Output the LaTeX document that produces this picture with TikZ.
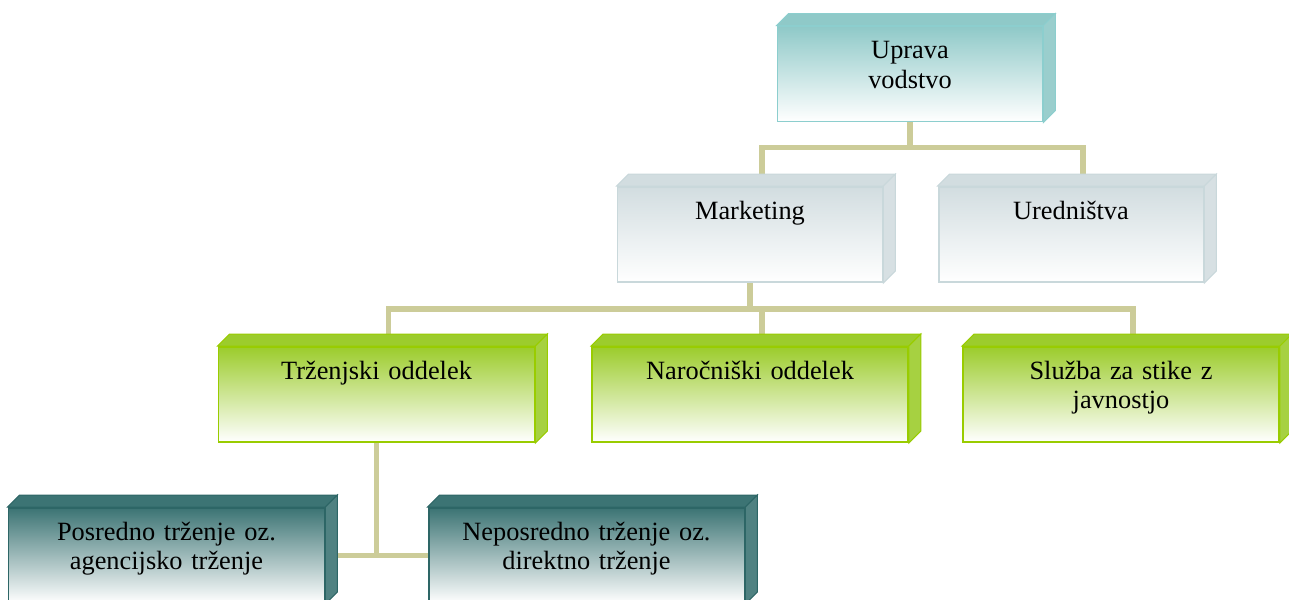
\documentclass[tikz,border=0pt]{standalone}
\usepackage{fontspec}
\setmainfont{Liberation Serif}
\usetikzlibrary{backgrounds}

\definecolor{modra}{HTML}{8FC9C8}
\definecolor{modrarob}{HTML}{8CCECE}
\definecolor{siva}{HTML}{D2DDE0}
\definecolor{sivarob}{HTML}{C9D8DB}
\definecolor{zelena}{HTML}{9CCC2C}
\definecolor{zelenarob}{HTML}{99CC00}
\definecolor{temna}{HTML}{3C7474}
\definecolor{temnarob}{HTML}{2D6666}
\definecolor{crta}{HTML}{CCCC99}

\tikzset{
	skatla/.style={draw=#1rob, line width=1.1pt, shading=axis, top color=#1, bottom color=white,
		inner sep=0pt, text height=0.64cm, text depth=1.26cm, align=center,
		font=\fontsize{15}{17}\selectfont},
	ozka/.style={skatla=#1, text width=5.3cm},
	siroka/.style={skatla=#1, text width=6.32cm},
	povezava/.style={crta, line width=3pt},
}

\begin{document}
\begin{tikzpicture}[x=0.02cm, y=-0.02cm]
	\useasboundingbox (0,0) rectangle (1289,599);
	
	% vodstvo
	\node[ozka=modra] (uprava) at (910,74) {Uprava\\vodstvo};
	
	% prva raven
	\node[ozka=siva] (mark) at (750,234.5) {Marketing};
	\node[ozka=siva] (ured) at (1071,234.5) {Uredništva};
	
	% oddelki marketinga
	\node[siroka=zelena] (trz) at (376.5,394.5) {Trženjski oddelek};
	\node[siroka=zelena] (naroc) at (750,394.5) {Naročniški oddelek};
	\node[siroka=zelena] (sluzba) at (1121,394.5) {Služba za stike z\\javnostjo};
	
	% vrste trženja
	\node[siroka=temna] (posr) at (166.5,555.5) {Posredno trženje oz.\\agencijsko trženje};
	\node[siroka=temna] (neposr) at (586.5,555.5) {Neposredno trženje oz.\\direktno trženje};
	
	% zgornja in stranska ploskev
	\foreach \n/\c/\r in {uprava/modra/modrarob, mark/siva/sivarob, ured/siva/sivarob,
		trz/zelena/zelenarob, naroc/zelena/zelenarob, sluzba/zelena/zelenarob,
		posr/temna/temnarob, neposr/temna/temnarob}{
		\filldraw[fill=\c, draw=\r, line width=0.6pt] (\n.north west) -- ++(12,-12)
			-- ([shift={(12,-12)}]\n.north east) -- (\n.north east) -- cycle;
		\filldraw[fill=\c!90!white, draw=\r, line width=0.6pt] (\n.north east) -- ++(12,-12)
			-- ([shift={(12,-12)}]\n.south east) -- (\n.south east) -- cycle;
	}
	
	% povezave
	\begin{scope}[on background layer]
		\draw[povezava] (uprava.south) -- ++(0,25) -| ([shift={(12,0)}]mark.north);
		\draw[povezava] (uprava.south) -- ++(0,25) -| ([shift={(12,0)}]ured.north);
		\draw[povezava] (mark.south) -- ++(0,26) -| ([shift={(12,0)}]trz.north);
		\draw[povezava] (mark.south) -- ++(0,26) -| ([shift={(12,0)}]naroc.north);
		\draw[povezava] (mark.south) -- ++(0,26) -| ([shift={(12,0)}]sluzba.north);
		\draw[povezava] (trz.south) -- (trz.south |- posr.east);
		\draw[povezava] (posr.east) -- (neposr.west);
	\end{scope}
\end{tikzpicture}
\end{document}
